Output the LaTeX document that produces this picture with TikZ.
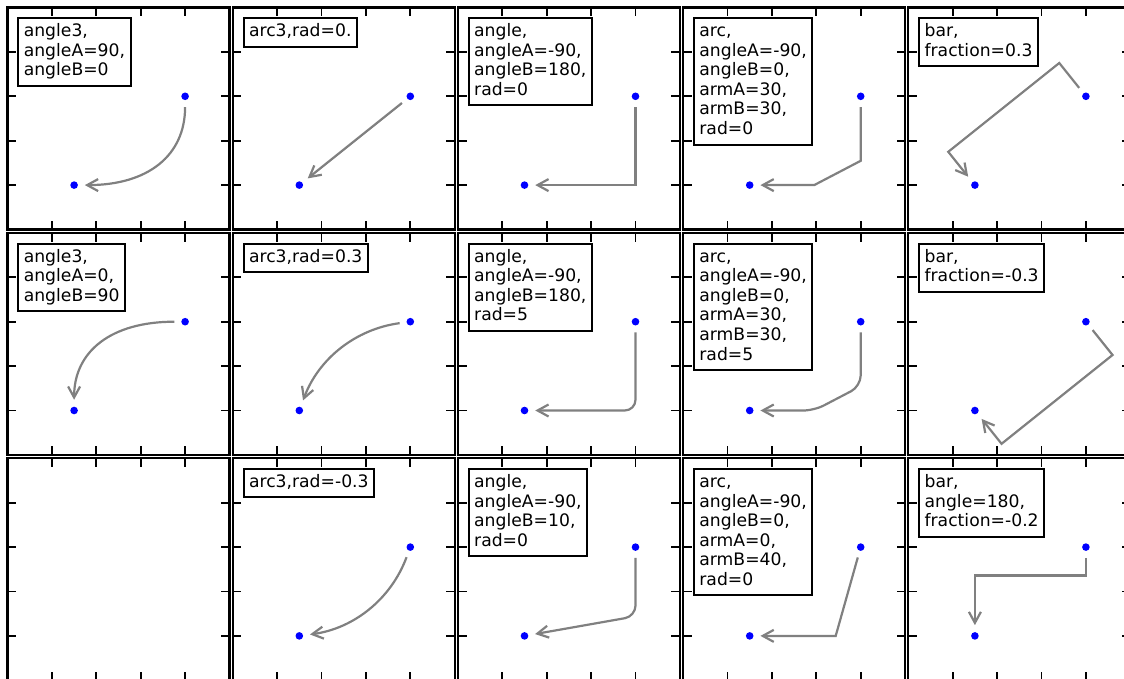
\documentclass[tikz,border=0pt]{standalone}
\usepackage{fontspec}
\setmainfont{DejaVu Sans}
\usetikzlibrary{arrows.meta,calc}
\newcommand\labtop{\rule{0pt}{13pt}}
\newcommand\labbot{\rule[-4.7pt]{0pt}{4.7pt}}
\tikzset{
  spine/.style={line width=2.3pt,black},
  tickmark/.style={line width=1.9pt,black},
  dot/.style={circle,fill=blue,inner sep=0pt,minimum size=7.6pt},
  con/.style={draw=gray,line width=2.2pt,shorten <=10.75pt,shorten >=10.75pt,
    -{Straight Barb[length=11pt,width=12pt]}},
  lab/.style={draw=black,line width=2pt,fill=white,anchor=north west,align=left,
    font=\fontsize{17.2pt}{19.6pt}\selectfont,inner xsep=5.5pt,inner ysep=5.3pt},
}
\newcommand\axesframe{%
  \draw[spine] (0,0) rectangle (222,222);
  \foreach \t in {44.4,88.8,133.2,177.6}{
    \draw[tickmark] (\t,0) -- ++(0,8.6);
    \draw[tickmark] (\t,222) -- ++(0,-8.6);
    \draw[tickmark] (0,\t) -- ++(8.6,0);
    \draw[tickmark] (222,\t) -- ++(-8.6,0);
  }%
}
\begin{document}
\begin{tikzpicture}[x=1pt,y=-1pt]
\useasboundingbox (0,0) rectangle (1124,679);
\clip (0,0) rectangle (1124,679);
% ---------- row 1 ----------
\begin{scope}[shift={(7.5,7.5)}]
  \axesframe
  \node[dot] (a11) at (177.6,88.8) {};
  \node[dot] (b11) at (66.6,177.6) {};
  \coordinate (c11) at (177.6,177.6);
  \draw[con] (a11.center) .. controls ($(a11.center)!2/3!(c11)$) and ($(b11.center)!2/3!(c11)$) .. (b11.center);
  \node[lab] (t11) at (9.8,9.8) {\labtop angle3,\\angleA=90,\\angleB=0\labbot};
\end{scope}
\begin{scope}[shift={(232.7,7.5)}]
  \axesframe
  \node[dot] (a12) at (177.6,88.8) {};
  \node[dot] (b12) at (66.6,177.6) {};
  \draw[con] (a12.center) -- (b12.center);
  \node[lab] (t12) at (9.8,9.8) {\labtop arc3,rad=0.\labbot};
\end{scope}
\begin{scope}[shift={(457.9,7.5)}]
  \axesframe
  \node[dot] (a13) at (177.6,88.8) {};
  \node[dot] (b13) at (66.6,177.6) {};
  \draw[con] (a13.center) |- (b13.center);
  \node[lab] (t13) at (9.8,9.8) {\labtop angle,\\angleA=-90,\\angleB=180,\\rad=0\labbot};
\end{scope}
\begin{scope}[shift={(683.1,7.5)}]
  \axesframe
  \node[dot] (a14) at (177.6,88.8) {};
  \node[dot] (b14) at (66.6,177.6) {};
  \draw[con] (a14.center) -- ++(0,64.5) -- ($(b14.center)+(64.5,0)$) -- (b14.center);
  \node[lab] (t14) at (9.8,9.8) {\labtop arc,\\angleA=-90,\\angleB=0,\\armA=30,\\armB=30,\\rad=0\labbot};
\end{scope}
\begin{scope}[shift={(908.3,7.5)}]
  \axesframe
  \node[dot] (a15) at (177.6,88.8) {};
  \node[dot] (b15) at (66.6,177.6) {};
  \draw[con] (a15.center) -- (150.96,55.5) -- (39.96,144.3) -- (b15.center);
  \node[lab] (t15) at (9.8,9.8) {\labtop bar,\\fraction=0.3\labbot};
\end{scope}
% ---------- row 2 ----------
\begin{scope}[shift={(7.5,232.9)}]
  \axesframe
  \node[dot] (a21) at (177.6,88.8) {};
  \node[dot] (b21) at (66.6,177.6) {};
  \coordinate (c21) at (66.6,88.8);
  \draw[con] (a21.center) .. controls ($(a21.center)!2/3!(c21)$) and ($(b21.center)!2/3!(c21)$) .. (b21.center);
  \node[lab] (t21) at (9.8,9.8) {\labtop angle3,\\angleA=0,\\angleB=90\labbot};
\end{scope}
\begin{scope}[shift={(232.7,232.9)}]
  \axesframe
  \node[dot] (a22) at (177.6,88.8) {};
  \node[dot] (b22) at (66.6,177.6) {};
  \coordinate (c22) at (95.46,99.9);
  \draw[con] (a22.center) .. controls ($(a22.center)!2/3!(c22)$) and ($(b22.center)!2/3!(c22)$) .. (b22.center);
  \node[lab] (t22) at (9.8,9.8) {\labtop arc3,rad=0.3\labbot};
\end{scope}
\begin{scope}[shift={(457.9,232.9)}]
  \axesframe
  \node[dot] (a23) at (177.6,88.8) {};
  \node[dot] (b23) at (66.6,177.6) {};
  \draw[con,rounded corners=10.75pt] (a23.center) |- (b23.center);
  \node[lab] (t23) at (9.8,9.8) {\labtop angle,\\angleA=-90,\\angleB=180,\\rad=5\labbot};
\end{scope}
\begin{scope}[shift={(683.1,232.9)}]
  \axesframe
  \node[dot] (a24) at (177.6,88.8) {};
  \node[dot] (b24) at (66.6,177.6) {};
  \draw[con,rounded corners=10.75pt] (a24.center) -- ++(0,64.5) -- ($(b24.center)+(64.5,0)$) -- (b24.center);
  \node[lab] (t24) at (9.8,9.8) {\labtop arc,\\angleA=-90,\\angleB=0,\\armA=30,\\armB=30,\\rad=5\labbot};
\end{scope}
\begin{scope}[shift={(908.3,232.9)}]
  \axesframe
  \node[dot] (a25) at (177.6,88.8) {};
  \node[dot] (b25) at (66.6,177.6) {};
  \draw[con] (a25.center) -- (204.24,122.1) -- (93.24,210.9) -- (b25.center);
  \node[lab] (t25) at (9.8,9.8) {\labtop bar,\\fraction=-0.3\labbot};
\end{scope}
% ---------- row 3 ----------
\begin{scope}[shift={(7.5,458.3)}]
  \axesframe
\end{scope}
\begin{scope}[shift={(232.7,458.3)}]
  \axesframe
  \node[dot] (a32) at (177.6,88.8) {};
  \node[dot] (b32) at (66.6,177.6) {};
  \coordinate (c32) at (148.74,166.5);
  \draw[con] (a32.center) .. controls ($(a32.center)!2/3!(c32)$) and ($(b32.center)!2/3!(c32)$) .. (b32.center);
  \node[lab] (t32) at (9.8,9.8) {\labtop arc3,rad=-0.3\labbot};
\end{scope}
\begin{scope}[shift={(457.9,458.3)}]
  \axesframe
  \node[dot] (a33) at (177.6,88.8) {};
  \node[dot] (b33) at (66.6,177.6) {};
  \draw[con,rounded corners=10.75pt] (a33.center) -- (177.6,158.03) -- (b33.center);
  \node[lab] (t33) at (9.8,9.8) {\labtop angle,\\angleA=-90,\\angleB=10,\\rad=0\labbot};
\end{scope}
\begin{scope}[shift={(683.1,458.3)}]
  \axesframe
  \node[dot] (a34) at (177.6,88.8) {};
  \node[dot] (b34) at (66.6,177.6) {};
  \draw[con] (a34.center) -- ($(b34.center)+(86,0)$) -- (b34.center);
  \node[lab] (t34) at (9.8,9.8) {\labtop arc,\\angleA=-90,\\angleB=0,\\armA=0,\\armB=40,\\rad=0\labbot};
\end{scope}
\begin{scope}[shift={(908.3,458.3)}]
  \axesframe
  \node[dot] (a35) at (177.6,88.8) {};
  \node[dot] (b35) at (66.6,177.6) {};
  \draw[con] (a35.center) -- (177.6,117.23) -| (b35.center);
  \node[lab] (t35) at (9.8,9.8) {\labtop bar,\\angle=180,\\fraction=-0.2\labbot};
\end{scope}
\end{tikzpicture}
\end{document}
